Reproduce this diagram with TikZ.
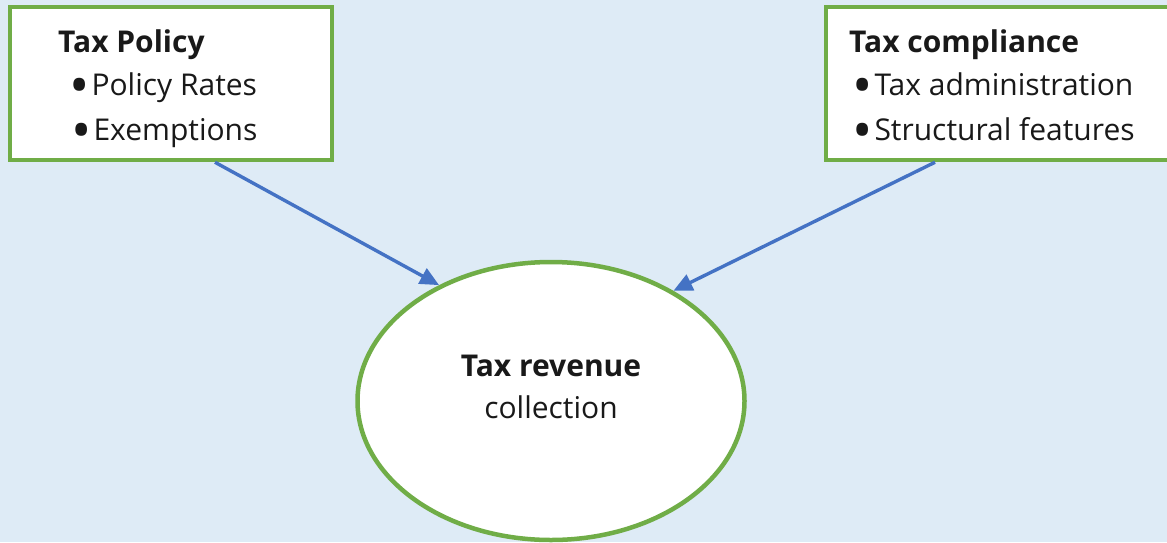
\documentclass[tikz,border=0pt]{standalone}
\usepackage{fontspec}
\setmainfont{Open Sans}
\usepackage{graphicx}
\usepackage{tikz}
\usetikzlibrary{arrows.meta,shapes.geometric}

\definecolor{bgblue}{RGB}{222,235,246}
\definecolor{boxgreen}{RGB}{112,173,71}
\definecolor{arrowblue}{RGB}{68,114,196}

\tikzset{
    taxbox/.style={draw=boxgreen, line width=4.5pt, fill=white, rectangle},
    head/.style={anchor=base west, inner sep=0pt, font=\fontsize{30}{36}\selectfont\bfseries, text=black!90},
    item/.style={anchor=base west, inner sep=0pt, font=\fontsize{30}{36}\selectfont, text=black!90},
    link/.style={draw=arrowblue, line width=3.4pt, -{Triangle[length=19pt,width=17pt]}}
}
\newcommand{\itm}[1]{\smash{\raisebox{-0.3em}{\scalebox{1.8}{\textbullet}}}\hspace{2pt}#1}

\begin{document}
\begin{tikzpicture}[x=1pt,y=-1pt]
    \useasboundingbox (0,0) rectangle (1167,542);
    \clip (0,0) rectangle (1167,542);
    \fill[bgblue] (0,0) rectangle (1167,542);

    % Draw the two boxes
    \node[taxbox, minimum width=322pt, minimum height=153pt] (policy) at (171,83.5) {};
    \node[taxbox, minimum width=350pt, minimum height=153pt] (compliance) at (1001,83.5) {};

    \node[head] (policyhead) at (58,52) {Tax Policy};
    \node[item] (rates) at (69,95) {\itm{Policy Rates}};
    \node[item] (exempt) at (71,140) {\itm{Exemptions}};

    \node[head] (compliancehead) at (849,52) {Tax compliance};
    \node[item] (admin) at (852,95) {\itm{Tax administration}};
    \node[item] (struct) at (852,140) {\itm{Structural features}};

    % Draw the ellipse
    \node[ellipse, draw=boxgreen, line width=4.5pt, fill=white, minimum width=387pt, minimum height=278pt] (revenue) at (551,401) {};
    \node[head, anchor=base] (revenuehead) at (551,376) {Tax revenue};
    \node[item, anchor=base] (revenuesub) at (551,418) {collection};

    % Add the arrows
    \draw[link] ([xshift=44pt]policy.south) -- (revenue.134);
    \draw[link] ([xshift=-66pt]compliance.south) -- (revenue.42);
\end{tikzpicture}
\end{document}
